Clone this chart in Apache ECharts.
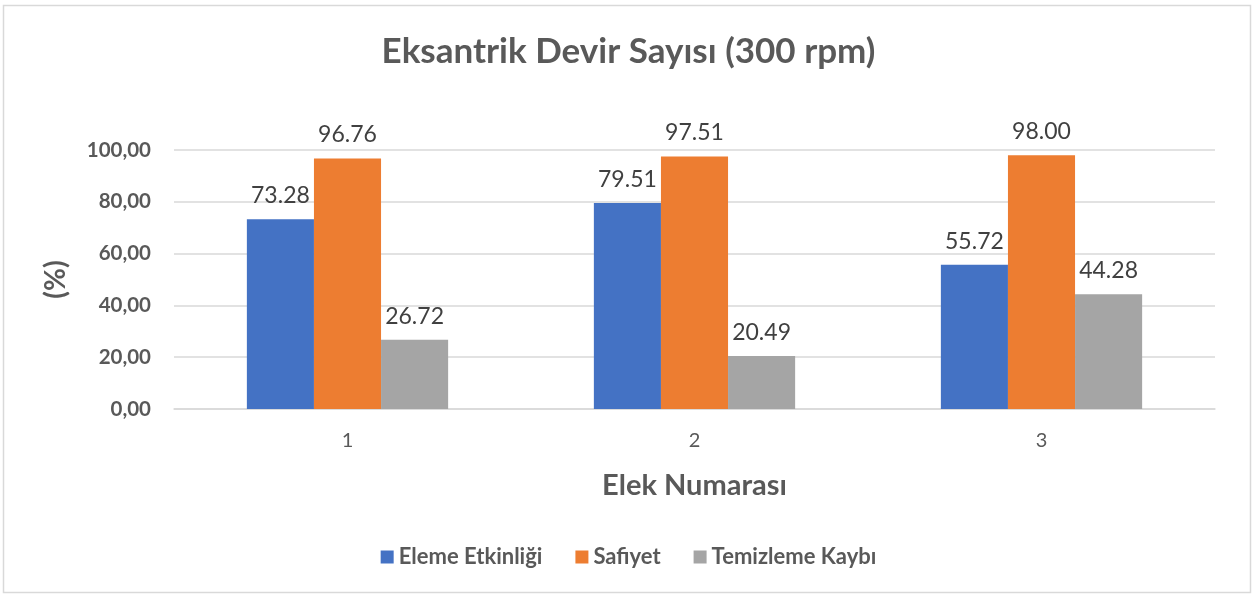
<!DOCTYPE html>
<html>
<head>
<meta charset="utf-8">
<script src="https://cdn.jsdelivr.net/npm/echarts@6/dist/echarts.min.js"></script>
<style>
  html, body { margin: 0; padding: 0; background: #fff; }
  #main { width: 1257px; height: 596px; }
</style>
</head>
<body>
<div id="main"></div>
<script>
// chart data
var categories = ['1', '2', '3'];
var seriesNames = ['Eleme Etkinliği', 'Safiyet', 'Temizleme Kaybı'];
var elemeEtkinligi = [73.28, 79.51, 55.72];
var safiyet = [96.76, 97.51, 98.00];
var temizlemeKaybi = [26.72, 20.49, 44.28];
var colors = ['#4472C4', '#ED7D31', '#A5A5A5'];

var font = 'Lato, "Open Sans", sans-serif';

function barSeries(name, values, color) {
  return {
    name: name,
    type: 'bar',
    data: values,
    barGap: '0%',
    barCategoryGap: '42%',
    itemStyle: { color: color },
    label: {
      show: true,
      position: 'top',
      distance: 12,
      color: '#404040',
      fontFamily: font,
      fontSize: 23,
      formatter: function (p) { return p.value.toFixed(2); }
    }
  };
}

var myChart = echarts.init(document.getElementById('main'));
myChart.setOption({
  animation: false,
  graphic: [{
    type: 'rect',
    shape: { x: 3.5, y: 5.5, width: 1247, height: 587 },
    style: { fill: 'none', stroke: '#D9D9D9', lineWidth: 1.5 }
  }],
  title: {
    text: 'Eksantrik Devir Sayısı (300 rpm)',
    left: 'center',
    top: 29,
    textStyle: { fontFamily: font, fontSize: 35, fontWeight: 'bold', color: '#595959' }
  },
  legend: {
    data: seriesNames,
    bottom: 23,
    left: 'center',
    itemWidth: 13,
    itemHeight: 13,
    itemGap: 33,
    icon: 'rect',
    textStyle: { fontFamily: font, fontSize: 22, fontWeight: 'bold', color: '#595959' }
  },
  grid: { left: 174, right: 42, top: 150, bottom: 187 },
  xAxis: {
    type: 'category',
    data: categories,
    name: 'Elek Numarası',
    nameLocation: 'middle',
    nameGap: 62,
    nameTextStyle: { fontFamily: font, fontSize: 29, fontWeight: 'bold', color: '#595959' },
    axisLine: { lineStyle: { color: '#D9D9D9', width: 1.5 } },
    axisTick: { show: false },
    axisLabel: { fontFamily: font, fontSize: 20, color: '#595959', margin: 22 }
  },
  yAxis: {
    type: 'value',
    min: 0,
    max: 100,
    interval: 20,
    name: '(%)',
    nameLocation: 'middle',
    nameGap: 104,
    nameRotate: 90,
    nameTextStyle: { fontFamily: font, fontSize: 28, fontWeight: 'bold', color: '#595959' },
    axisLine: { show: false },
    axisTick: { show: false },
    splitLine: { lineStyle: { color: '#D9D9D9', width: 1.5 } },
    axisLabel: {
      fontFamily: font, fontSize: 20.5, fontWeight: 'bold', color: '#595959', margin: 23,
      formatter: function (v) { return v.toFixed(2).replace('.', ','); }
    }
  },
  series: [
    barSeries(seriesNames[0], elemeEtkinligi, colors[0]),
    barSeries(seriesNames[1], safiyet, colors[1]),
    barSeries(seriesNames[2], temizlemeKaybi, colors[2])
  ]
});
</script>
</body>
</html>
